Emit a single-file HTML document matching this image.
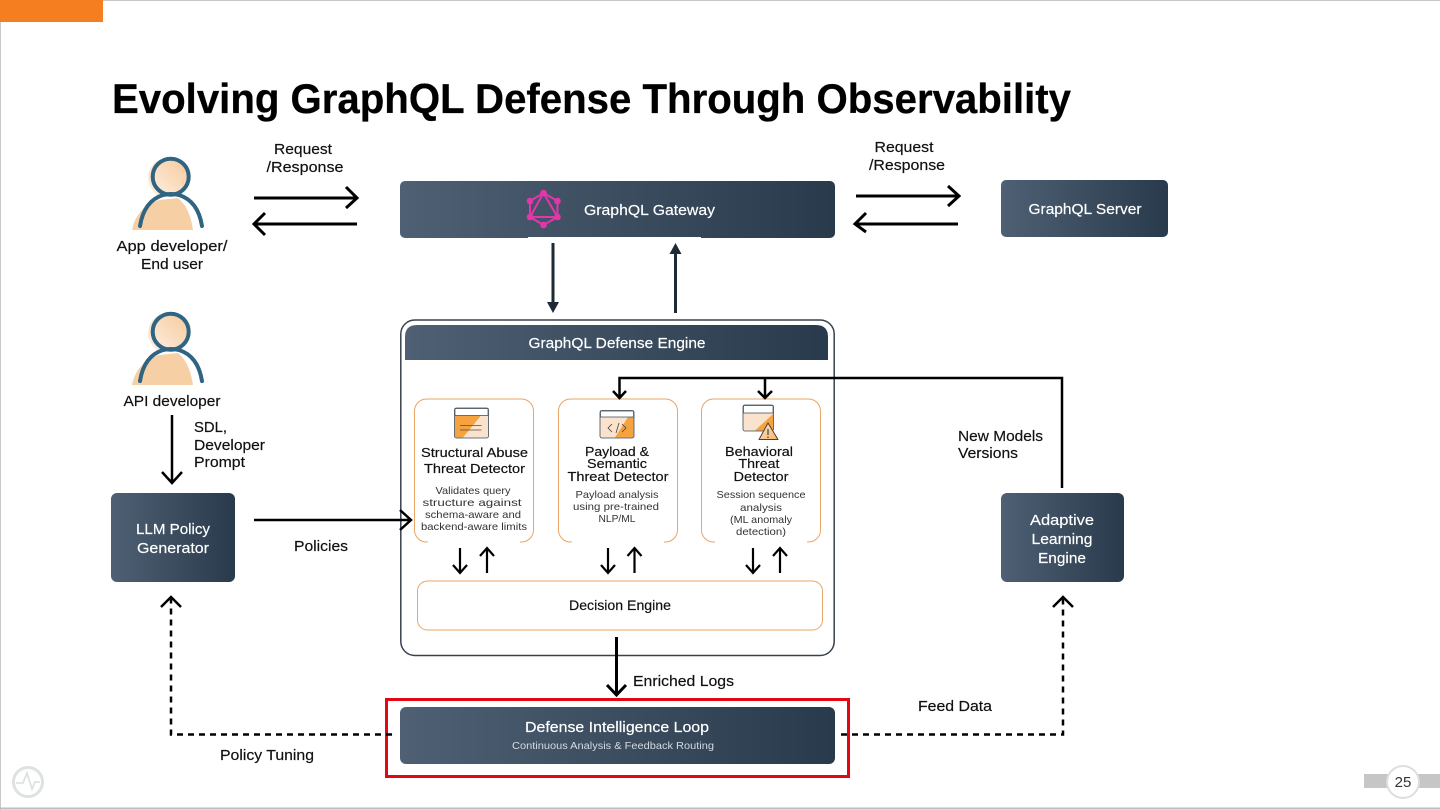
<!DOCTYPE html>
<html><head><meta charset="utf-8"><style>
html,body{margin:0;padding:0;background:#fff}
svg{display:block}
text{font-family:"Liberation Sans",sans-serif;fill:#111;stroke:#111;stroke-width:.18}
.w{fill:#fff;stroke:#fff}
.t{fill:#000;stroke:#000;stroke-width:.3}
.s{fill:#333;stroke:none}
</style></head><body>
<svg width="1440" height="810" viewBox="0 0 1440 810" xmlns="http://www.w3.org/2000/svg">
<defs>
<linearGradient id="g" x1="0" y1="0" x2="1" y2="0"><stop offset="0" stop-color="#4f6074"/><stop offset="1" stop-color="#283a4b"/></linearGradient>
<linearGradient id="sk" x1="0" y1="1" x2="1" y2="0"><stop offset="0" stop-color="#fdf1e6"/><stop offset="1" stop-color="#f8c99a"/></linearGradient>
<linearGradient id="tri" x1="0" y1="0" x2="1" y2="1"><stop offset="0" stop-color="#fbe6d0"/><stop offset="1" stop-color="#f7b469"/></linearGradient>
<g id="person">
<path d="M132 230 Q136 208 159 200 L178 198 Q190 208 193 230Z" fill="#f7cfa4"/>
<path d="M148 180 Q148 162 166 158 Q182 160 187 172 Q188 188 176 196 L158 196 Q150 190 148 180Z" fill="url(#sk)"/>
<circle cx="170.700" cy="176.700" r="18" fill="none" stroke="#2f6482" stroke-width="4"/>
<path d="M140 226 Q144 201 163 195 Q171 193 179 195 Q198 201 202 226" fill="none" stroke="#2f6482" stroke-width="4" stroke-linecap="round"/>
</g>
</defs>

<!-- page frame -->
<rect width="1440" height="810" fill="#fff"/>
<path d="M0.5 810V0.5H1440" fill="none" stroke="#c8c8c8"/>
<path d="M0 808.500H1440" stroke="#bdbdbd" stroke-width="2"/>
<rect x="0" y="0" width="103" height="22" fill="#f47e20"/>

<text x="112" y="113" font-size="42" font-weight="700" class="t" textLength="959" lengthAdjust="spacingAndGlyphs">Evolving GraphQL Defense Through Observability</text>

<!-- actors -->
<use href="#person"/>
<use href="#person" y="155"/>
<text x="172" y="251" font-size="15" text-anchor="middle" textLength="111" lengthAdjust="spacingAndGlyphs">App developer/</text>
<text x="172" y="269" font-size="15" text-anchor="middle" textLength="62" lengthAdjust="spacingAndGlyphs">End user</text>
<text x="172" y="406" font-size="15" text-anchor="middle" textLength="97" lengthAdjust="spacingAndGlyphs">API developer</text>

<!-- request labels -->
<text x="303" y="154" font-size="15" text-anchor="middle" textLength="58" lengthAdjust="spacingAndGlyphs">Request</text>
<text x="305" y="172" font-size="15" text-anchor="middle" textLength="77" lengthAdjust="spacingAndGlyphs">/Response</text>
<text x="904" y="152" font-size="15" text-anchor="middle" textLength="59" lengthAdjust="spacingAndGlyphs">Request</text>
<text x="907" y="170" font-size="15" text-anchor="middle" textLength="76" lengthAdjust="spacingAndGlyphs">/Response</text>

<!-- top arrows -->
<g fill="none" stroke="#000" stroke-width="3">
<path d="M254 198H356M346 187L357 198L346 208"/>
<path d="M357 224H254M265 213L254 224L265 235"/>
<path d="M856 196H958M948 186L959 196L948 206"/>
<path d="M958 224H856M866 213L855 224L866 232"/>
</g>

<!-- Gateway -->
<rect x="400" y="181" width="435" height="57" rx="5" fill="url(#g)"/>
<rect x="528" y="237" width="173" height="2" fill="#fff"/>
<g fill="none" stroke="#e535ab" stroke-width="2">
<path d="M543.500 193L557.500 201V217L543.500 225L530 217V201Z"/>
<path d="M543.500 193L557.500 217H530Z"/>
</g>
<g fill="#e535ab"><circle cx="543.500" cy="193" r="3.300"/><circle cx="557.500" cy="201" r="3.300"/><circle cx="557.500" cy="217" r="3.300"/><circle cx="543.500" cy="225" r="3.300"/><circle cx="530" cy="217" r="3.300"/><circle cx="530" cy="201" r="3.300"/></g>
<text x="584" y="215" font-size="15" class="w" textLength="131" lengthAdjust="spacingAndGlyphs">GraphQL Gateway</text>

<!-- Server -->
<rect x="1001" y="180" width="167" height="57" rx="5" fill="url(#g)"/>
<text x="1085" y="214" font-size="15" class="w" text-anchor="middle" textLength="113" lengthAdjust="spacingAndGlyphs">GraphQL Server</text>

<!-- gateway arrows -->
<g stroke="#1e2b36" stroke-width="3" fill="none"><path d="M553 243V304M675.500 313V252"/></g>
<path d="M547 302H559L553 313Z M669.500 254H681.500L675.500 243Z" fill="#1e2b36"/>

<!-- Defense engine -->
<rect x="400.800" y="320" width="433.400" height="335.500" rx="14" fill="#fff" stroke="#37424d" stroke-width="1.500"/>
<path d="M405 360V337Q405 325 417 325H816Q828 325 828 337V360Z" fill="url(#g)"/>
<text x="617" y="348" font-size="15" class="w" text-anchor="middle" textLength="177" lengthAdjust="spacingAndGlyphs">GraphQL Defense Engine</text>

<!-- detector cards -->
<g fill="#fff" stroke="#e8a565" stroke-width="1">
<rect x="414.500" y="399" width="119" height="143" rx="12"/>
<rect x="558.500" y="399" width="119" height="143" rx="12"/>
<rect x="701.500" y="399" width="119" height="143" rx="12"/>
<rect x="417.500" y="581" width="405" height="49" rx="10"/>
</g>
<rect x="428" y="540.500" width="92" height="3" fill="#fff"/>
<rect x="572" y="540.500" width="92" height="3" fill="#fff"/>
<rect x="715" y="540.500" width="92" height="3" fill="#fff"/>

<!-- icon 1 -->
<rect x="454.500" y="408" width="34" height="30" rx="2" fill="#f9e3cd" stroke="#3d4b58" stroke-width="0.800"/>
<path d="M455 415.500H481L463 437.500H455Z" fill="#f5a341"/>
<path d="M455 408.500H488V415.500H455Z" fill="#fff" stroke="#3d4b58" stroke-width="0.700"/>
<path d="M460 425.500H481.500M460 430H481.500" stroke="#5a4a38" stroke-width="0.700"/>
<!-- icon 2 -->
<rect x="600" y="410.500" width="34" height="27.500" rx="2" fill="#f9e3cd" stroke="#3d4b58" stroke-width="0.800"/>
<path d="M633.500 417V437.500H615L628 417Z" fill="#f5a341"/>
<path d="M600.500 411H633.500V417H600.500Z" fill="#fff" stroke="#3d4b58" stroke-width="0.700"/>
<path d="M612 424L608 428L612 432M616 433L619 423M622 424L626 428L622 432" fill="none" stroke="#4b4035" stroke-width="0.800"/>
<!-- icon 3 -->
<rect x="743" y="405" width="30.500" height="26" rx="2" fill="#f9e3cd" stroke="#3d4b58" stroke-width="0.800"/>
<path d="M755 430.500L773 414V430.500Z" fill="#f5a341"/>
<path d="M743.500 405.500H773V413H743.500Z" fill="#fff" stroke="#3d4b58" stroke-width="0.700"/>
<path d="M768 423L778 439.500H759Z" fill="url(#tri)" stroke="#4b4035" stroke-width="1" stroke-linejoin="round"/>
<path d="M768 429V435M768 436.500V438" stroke="#222" stroke-width="1"/>

<!-- card text -->
<g font-size="13" text-anchor="middle">
<text x="474.500" y="457" textLength="107" lengthAdjust="spacingAndGlyphs">Structural Abuse</text>
<text x="474.500" y="473" textLength="101" lengthAdjust="spacingAndGlyphs">Threat Detector</text>
<text x="617" y="456" textLength="64" lengthAdjust="spacingAndGlyphs">Payload &amp;</text>
<text x="617" y="468" textLength="60" lengthAdjust="spacingAndGlyphs">Semantic</text>
<text x="618" y="481" textLength="101" lengthAdjust="spacingAndGlyphs">Threat Detector</text>
<text x="759" y="456" textLength="68" lengthAdjust="spacingAndGlyphs">Behavioral</text>
<text x="759" y="468" textLength="41" lengthAdjust="spacingAndGlyphs">Threat</text>
<text x="761" y="481" textLength="55" lengthAdjust="spacingAndGlyphs">Detector</text>
</g>
<g font-size="10.500" text-anchor="middle">
<text class="s" x="473" y="494" textLength="75" lengthAdjust="spacingAndGlyphs">Validates query</text>
<text class="s" x="472" y="506" textLength="99" lengthAdjust="spacingAndGlyphs">structure against</text>
<text class="s" x="473" y="518" textLength="96" lengthAdjust="spacingAndGlyphs">schema-aware and</text>
<text class="s" x="474" y="530" textLength="106" lengthAdjust="spacingAndGlyphs">backend-aware limits</text>
<text class="s" x="617" y="498" textLength="83" lengthAdjust="spacingAndGlyphs">Payload analysis</text>
<text class="s" x="616" y="510" textLength="86" lengthAdjust="spacingAndGlyphs">using pre-trained</text>
<text class="s" x="617" y="522" textLength="37" lengthAdjust="spacingAndGlyphs">NLP/ML</text>
<text class="s" x="761" y="498" textLength="89" lengthAdjust="spacingAndGlyphs">Session sequence</text>
<text class="s" x="761" y="511" textLength="42" lengthAdjust="spacingAndGlyphs">analysis</text>
<text class="s" x="761" y="523" textLength="62" lengthAdjust="spacingAndGlyphs">(ML anomaly</text>
<text class="s" x="761" y="535" textLength="50" lengthAdjust="spacingAndGlyphs">detection)</text>
</g>

<!-- new models connector -->
<g fill="none" stroke="#000" stroke-width="2.500">
<path d="M1062 488V378H619.500V398M613 391L619.500 398L626 391"/>
<path d="M765 378V398M758 391L765 398L772 391"/>
</g>
<text x="958" y="441" font-size="15" textLength="85" lengthAdjust="spacingAndGlyphs">New Models</text>
<text x="958" y="458" font-size="15" textLength="60" lengthAdjust="spacingAndGlyphs">Versions</text>

<!-- small vertical arrows -->
<g fill="none" stroke="#000" stroke-width="2.200">
<path d="M460 548V573M453 565L460 573L467 565"/>
<path d="M487 573V548M480 556L487 548L494 556"/>
<path d="M608 548V573M601 565L608 573L615 565"/>
<path d="M634.500 573V548M627.500 556L634.500 548L641.500 556"/>
<path d="M753 548V573M746 565L753 573L760 565"/>
<path d="M780 573V548M773 556L780 548L787 556"/>
</g>
<text x="620" y="610" font-size="13.500" text-anchor="middle" textLength="102" lengthAdjust="spacingAndGlyphs">Decision Engine</text>

<!-- LLM -->
<rect x="111" y="493" width="124" height="89" rx="6" fill="url(#g)"/>
<text x="173" y="534" font-size="15" class="w" text-anchor="middle" textLength="74" lengthAdjust="spacingAndGlyphs">LLM Policy</text>
<text x="173" y="553" font-size="15" class="w" text-anchor="middle" textLength="72" lengthAdjust="spacingAndGlyphs">Generator</text>

<!-- adaptive -->
<rect x="1001" y="493" width="123" height="89" rx="6" fill="url(#g)"/>
<text x="1062" y="525" font-size="15" class="w" text-anchor="middle" textLength="64" lengthAdjust="spacingAndGlyphs">Adaptive</text>
<text x="1062" y="544" font-size="15" class="w" text-anchor="middle" textLength="61" lengthAdjust="spacingAndGlyphs">Learning</text>
<text x="1062" y="563" font-size="15" class="w" text-anchor="middle" textLength="48" lengthAdjust="spacingAndGlyphs">Engine</text>

<!-- API dev to LLM -->
<g fill="none" stroke="#000" stroke-width="2.500">
<path d="M172 415V482M162 472L172 483L182 472"/>
<path d="M254 520H410M400 510L411 520L400 530"/>
</g>
<text x="194" y="432" font-size="15" textLength="33" lengthAdjust="spacingAndGlyphs">SDL,</text>
<text x="194" y="450" font-size="15" textLength="71" lengthAdjust="spacingAndGlyphs">Developer</text>
<text x="194" y="467" font-size="15" textLength="51" lengthAdjust="spacingAndGlyphs">Prompt</text>
<text x="321" y="551" font-size="15" text-anchor="middle" textLength="54" lengthAdjust="spacingAndGlyphs">Policies</text>

<!-- enriched logs -->
<g fill="none" stroke="#000" stroke-width="3">
<path d="M616.500 637V695M607 685L616.500 695L626 685"/>
</g>
<text x="633" y="686" font-size="15" textLength="101" lengthAdjust="spacingAndGlyphs">Enriched Logs</text>

<!-- red box & loop -->
<rect x="386.500" y="699.500" width="462" height="77" fill="#fff" stroke="#e30613" stroke-width="3"/>
<rect x="400" y="707" width="435" height="57" rx="6" fill="url(#g)"/>
<text x="617" y="732" font-size="15" class="w" text-anchor="middle" textLength="184" lengthAdjust="spacingAndGlyphs">Defense Intelligence Loop</text>
<text x="613" y="749" font-size="10.500" style="fill:#d5dbe1;stroke:none" text-anchor="middle" textLength="202" lengthAdjust="spacingAndGlyphs">Continuous Analysis &amp; Feedback Routing</text>

<!-- dashed feedback -->
<g fill="none" stroke="#000" stroke-width="2.500">
<path d="M392 734.500H171V597" stroke-dasharray="6 5"/>
<path d="M161 607L171 597L181 607"/>
<path d="M841 734.500H1063V597" stroke-dasharray="6 5"/>
<path d="M1053 607L1063 597L1073 607"/>
</g>
<text x="267" y="760" font-size="15" text-anchor="middle" textLength="94" lengthAdjust="spacingAndGlyphs">Policy Tuning</text>
<text x="955" y="711" font-size="15" text-anchor="middle" textLength="74" lengthAdjust="spacingAndGlyphs">Feed Data</text>

<!-- footer -->
<g fill="none" stroke="#dde2e2" stroke-width="3">
<circle cx="28" cy="782" r="14.500"/>
<path stroke-width="1.800" d="M16 783H23L27 773L32 789L35 782H40"/>
</g>
<rect x="1364" y="774" width="76" height="14" fill="#c6c6c6"/>
<circle cx="1403" cy="782" r="16" fill="#fff" stroke="#dedede" stroke-width="2"/>
<text x="1403" y="787" font-size="15" text-anchor="middle" style="fill:#333;stroke:none">25</text>
</svg>
</body></html>
